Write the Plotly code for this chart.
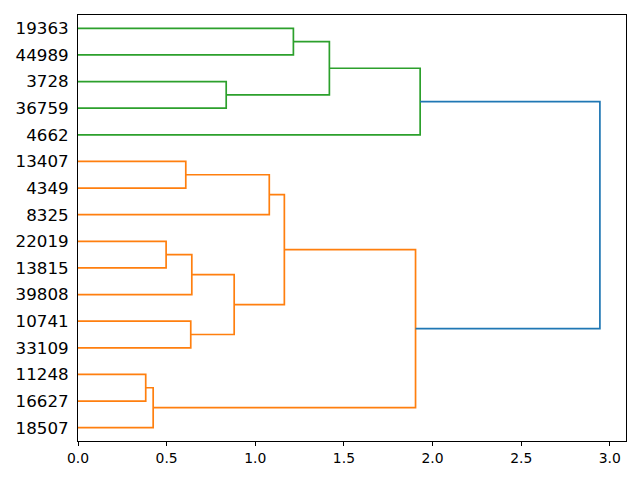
import plotly.graph_objects as go

# Leaf labels, bottom to top (leaf i sits at y = 5 + 10*i)
leaf_labels = ["18507", "16627", "11248", "33109", "10741", "39808", "13815", "22019",
               "8325", "4349", "13407", "4662", "36759", "3728", "44989", "19363"]

# Merges: new cluster id = 16 + row index
merge_left = [2, 16, 7, 18, 4, 19, 10, 22, 23, 24, 13, 15, 27, 28, 29]
merge_right = [1, 0, 6, 5, 3, 20, 9, 8, 21, 17, 12, 14, 26, 11, 25]
merge_height = [0.382, 0.424, 0.497, 0.642, 0.636, 0.881, 0.608, 1.079, 1.164, 1.904,
                0.836, 1.215, 1.418, 1.930, 2.944]
# colour group of each merge link
merge_group = ["C1"] * 10 + ["C2"] * 4 + ["C0"]

colors = {"C0": "#1f77b4", "C1": "#ff7f0e", "C2": "#2ca02c"}

n = len(leaf_labels)
pos = {i: 5 + 10 * i for i in range(n)}
hgt = {i: 0.0 for i in range(n)}

segs = {k: ([], []) for k in colors}
for k, (a, b, h) in enumerate(zip(merge_left, merge_right, merge_height)):
    cid = n + k
    xs, ys = segs[merge_group[k]]
    xs += [hgt[a], h, h, hgt[b], None]
    ys += [pos[a], pos[a], pos[b], pos[b], None]
    pos[cid] = (pos[a] + pos[b]) / 2
    hgt[cid] = h

fig = go.Figure()
for key in ["C1", "C2", "C0"]:
    xs, ys = segs[key]
    fig.add_trace(go.Scatter(x=xs, y=ys, mode="lines",
                             line=dict(color=colors[key], width=1.7),
                             hoverinfo="skip", showlegend=False))

# page body has an 8px margin, so the figure is 632x472 and offset by 8px
fig.update_layout(
    width=632, height=472,
    margin=dict(l=70, r=14, t=7, b=39),
    paper_bgcolor="white", plot_bgcolor="white",
    font=dict(family="DejaVu Sans", color="black"),
)
fig.update_xaxes(range=[0, max(merge_height) * 1.05], automargin=False,
                 tickvals=[0, 0.5, 1.0, 1.5, 2.0, 2.5, 3.0], tickformat=".1f",
                 ticks="outside", ticklen=4, tickwidth=1, tickcolor="black",
                 tickfont=dict(size=13.9),
                 showline=True, mirror=True, linecolor="black", linewidth=1,
                 showgrid=False, zeroline=False)
fig.update_yaxes(range=[0, 10 * n], automargin=False,
                 tickvals=[5 + 10 * i for i in range(n)], ticktext=leaf_labels,
                 ticks="outside", ticklen=5, tickcolor="rgba(0,0,0,0)",
                 tickfont=dict(size=16.7),
                 showline=True, mirror=True, linecolor="black", linewidth=1,
                 showgrid=False, zeroline=False)

fig.write_html("out.html")
